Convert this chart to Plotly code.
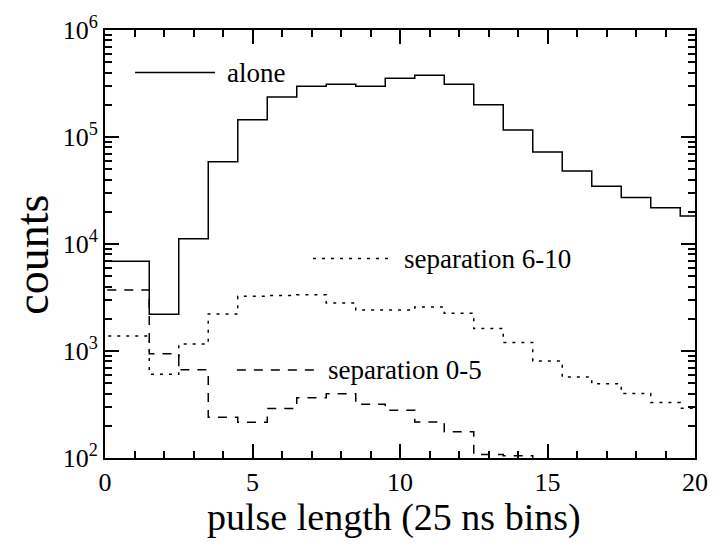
import numpy as np
import plotly.graph_objects as go

# ---- data ----
bin_centers = list(range(0, 21))  # pulse length bins (25 ns)
alone = [6900, 6900, 2200, 11200, 58600, 145000, 237000, 298000, 311000, 298000,
         355000, 378000, 311000, 200000, 116000, 72300, 48200, 34700, 27200, 21800, 18300]
sep_6_10 = [1380, 1380, 605, 1160, 2220, 3250, 3300, 3350, 2810, 2410, 2410,
            2580, 2250, 1620, 1200, 806, 571, 494, 400, 330, 292]
sep_0_5 = [3720, 3720, 944, 667, 240, 216, 290, 366, 398, 318, 280,
           217, 176, 108, 105, 80, 70, 60, 50, 45, 40]

x_ticks = [0, 5, 10, 15, 20]
y_ticks = [1e2, 1e3, 1e4, 1e5, 1e6]
y_ticktext = ["10<sup>2</sup>", "10<sup>3</sup>", "10<sup>4</sup>", "10<sup>5</sup>", "10<sup>6</sup>"]
series_names = ["alone", "separation 6-10", "separation 0-5"]

FONT = "Liberation Serif"


def step_xy(centers, values):
    edges = [c - 0.5 for c in centers] + [centers[-1] + 0.5]
    ys = list(values) + [values[-1]]
    return edges, ys


fig = go.Figure()

styles = [
    dict(color="black", width=1.5, dash="solid"),
    dict(color="black", width=1.5, dash="3px,6px"),
    dict(color="black", width=1.5, dash="9px,8px"),
]

for vals, st in zip([alone, sep_6_10, sep_0_5], styles):
    xs, ys = step_xy(bin_centers, vals)
    fig.add_trace(go.Scatter(x=xs, y=ys, mode="lines", line_shape="hv",
                             line=st, showlegend=False, hoverinfo="skip"))

# ---- inline legend (sample line + label), positions in data units ----
legend_pos = [
    # (x start, x end, y value, text x)
    (1.02, 3.73, 4.0e5, 4.07),
    (7.05, 9.69, 7.3e3, 10.07),
    (4.47, 7.22, 6.65e2, 7.49),
]
for (x0, x1, yv, tx), st, name in zip(legend_pos, styles, series_names):
    fig.add_trace(go.Scatter(x=[x0, x1], y=[yv, yv], mode="lines", line=st,
                             showlegend=False, hoverinfo="skip"))
    fig.add_annotation(x=tx, y=np.log10(yv), xref="x", yref="y", text=name,
                       showarrow=False, xanchor="left", yanchor="middle",
                       font=dict(family=FONT, size=27, color="black"))

axis_common = dict(
    showline=True, linecolor="black", linewidth=2, mirror="ticks",
    ticks="inside", ticklen=14, tickwidth=2, tickcolor="black",
    showgrid=False, zeroline=False,
    tickfont=dict(family=FONT, size=26, color="black"),
)

fig.update_xaxes(range=[0, 20], tickmode="array", tickvals=x_ticks,
                 minor=dict(dtick=1, ticks="inside", ticklen=7, tickwidth=1.5,
                            tickcolor="black", showgrid=False),
                 **axis_common)
fig.update_yaxes(type="log", range=[2, 6], tickmode="array", tickvals=y_ticks,
                 ticktext=y_ticktext,
                 minor=dict(dtick="D1", ticks="inside", ticklen=7, tickwidth=1.5,
                            tickcolor="black", showgrid=False),
                 **axis_common)

PLOT_H = 544 - 22 - 86
fig.add_annotation(text="pulse length (25 ns bins)", xref="paper", yref="paper",
                   x=0.49, y=-85.0 / PLOT_H, showarrow=False, xanchor="center", yanchor="bottom",
                   font=dict(family=FONT, size=38, color="black"))
fig.add_annotation(text="counts", xref="paper", yref="paper",
                   x=-0.122, y=0.475, showarrow=False, textangle=-90,
                   xanchor="center", yanchor="middle",
                   font=dict(family=FONT, size=46, color="black"))

fig.update_layout(
    width=720, height=544,
    margin=dict(l=105, r=25, t=22, b=86),
    paper_bgcolor="white", plot_bgcolor="white",
    font=dict(family=FONT, color="black"),
)

fig.write_html("out.html")
